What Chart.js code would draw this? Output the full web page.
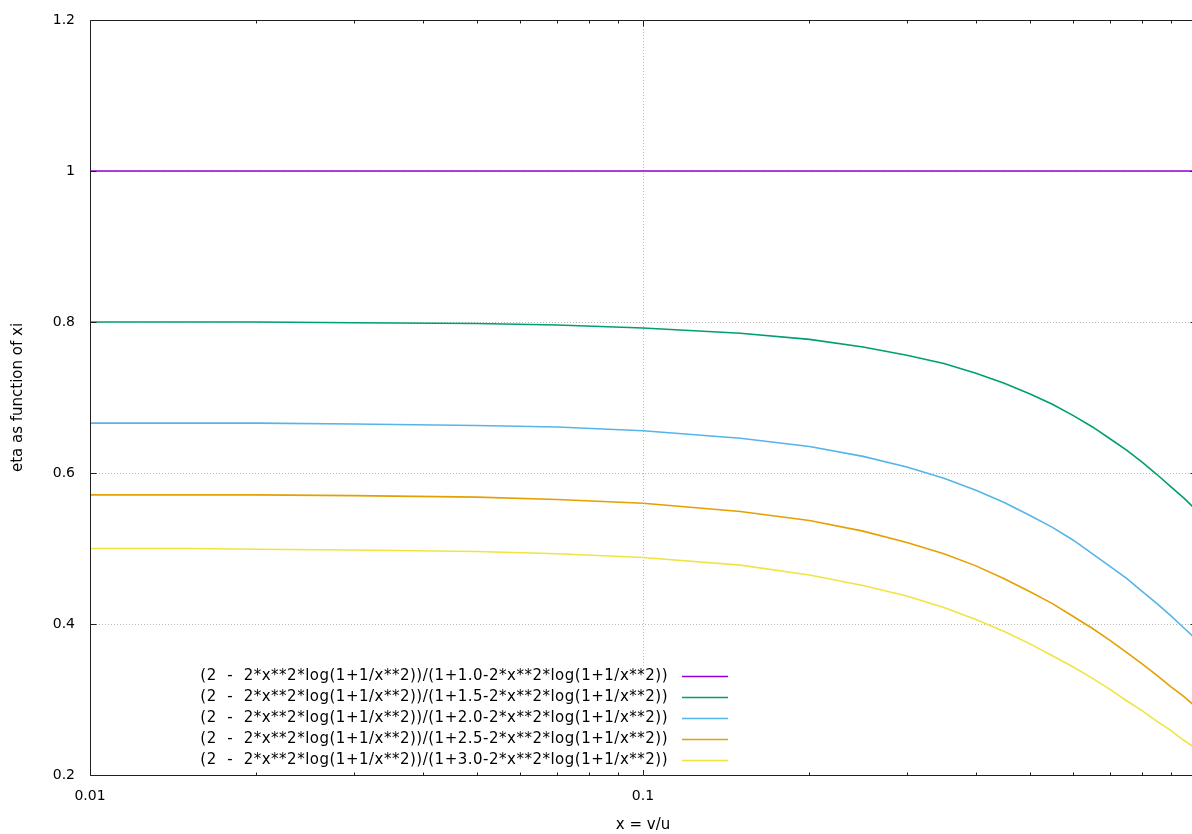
<!DOCTYPE html>
<html lang="en">
<head>
    <meta charset="UTF-8">
    <title>eta as function of xi</title>
    <script src="https://cdn.jsdelivr.net/npm/chart.js@4.4.1/dist/chart.umd.min.js"></script>
    <style>
        html, body { margin: 0; padding: 0; background: #fff; overflow: hidden; }
        #wrap { width: 1200px; height: 834px; }
    </style>
</head>
<body>
<div id="wrap"><canvas id="myChart" width="1200" height="834"></canvas></div>
<script>
    // sample points (x = v/u)
    var xValues = [0.01, 0.015, 0.02, 0.03, 0.05, 0.07, 0.1, 0.15, 0.2, 0.25, 0.3, 0.35, 0.4,
                   0.45, 0.5, 0.55, 0.6, 0.65, 0.7, 0.75, 0.8, 0.85, 0.9, 0.95, 1.0];

    var eta10 = [1, 1, 1, 1, 1, 1, 1, 1, 1, 1, 1, 1, 1, 1, 1, 1, 1, 1, 1, 1, 1, 1, 1, 1, 1];
    var eta15 = [0.800, 0.800, 0.800, 0.799, 0.798, 0.796, 0.792, 0.785, 0.777, 0.767, 0.756, 0.745, 0.732,
                 0.719, 0.705, 0.691, 0.676, 0.661, 0.645, 0.630, 0.614, 0.598, 0.582, 0.567, 0.551];
    var eta20 = [0.666, 0.666, 0.666, 0.665, 0.663, 0.661, 0.656, 0.646, 0.635, 0.622, 0.608, 0.593, 0.577,
                 0.561, 0.544, 0.528, 0.511, 0.493, 0.476, 0.460, 0.443, 0.427, 0.411, 0.395, 0.380];
    var eta25 = [0.571, 0.571, 0.571, 0.570, 0.568, 0.565, 0.560, 0.549, 0.537, 0.523, 0.508, 0.493, 0.477,
                 0.460, 0.443, 0.427, 0.410, 0.394, 0.378, 0.362, 0.347, 0.332, 0.317, 0.304, 0.290];
    var eta30 = [0.500, 0.500, 0.499, 0.498, 0.496, 0.493, 0.488, 0.478, 0.465, 0.451, 0.437, 0.422, 0.406,
                 0.390, 0.374, 0.358, 0.343, 0.328, 0.313, 0.298, 0.285, 0.271, 0.259, 0.246, 0.235];

    var seriesLabels = [
        '(2  -  2*x**2*log(1+1/x**2))/(1+1.0-2*x**2*log(1+1/x**2))',
        '(2  -  2*x**2*log(1+1/x**2))/(1+1.5-2*x**2*log(1+1/x**2))',
        '(2  -  2*x**2*log(1+1/x**2))/(1+2.0-2*x**2*log(1+1/x**2))',
        '(2  -  2*x**2*log(1+1/x**2))/(1+2.5-2*x**2*log(1+1/x**2))',
        '(2  -  2*x**2*log(1+1/x**2))/(1+3.0-2*x**2*log(1+1/x**2))'
    ];
    var seriesColors = ['#9400d3', '#009e73', '#56b4e9', '#e69f00', '#f0e442'];

    var xTickValues = [0.01, 0.1, 1];
    var xTickLabels = ['0.01', '0.1', '1'];
    var xMinorTicks = [0.02, 0.03, 0.04, 0.05, 0.06, 0.07, 0.08, 0.09,
                       0.2, 0.3, 0.4, 0.5, 0.6, 0.7, 0.8, 0.9];
    var yTickValues = [0.2, 0.4, 0.6, 0.8, 1.0, 1.2];
    var yTickLabels = ['0.2', '0.4', '0.6', '0.8', '1', '1.2'];

    function points(arr) {
        return xValues.map(function (x, i) { return { x: x, y: arr[i] }; });
    }

    var allSeries = [eta10, eta15, eta20, eta25, eta30];
    var datasets = allSeries.map(function (arr, i) {
        return {
            label: seriesLabels[i],
            data: points(arr),
            borderColor: seriesColors[i],
            backgroundColor: seriesColors[i],
            borderWidth: 1.6,
            pointRadius: 0,
            tension: 0,
            fill: false
        };
    });

    // gnuplot-like frame: dotted grid, border box, inward ticks, key box
    var framePlugin = {
        id: 'frame',
        beforeDatasetsDraw: function (chart) {
            var ctx = chart.ctx, a = chart.chartArea;
            var xs = chart.scales.x, ys = chart.scales.y;
            ctx.save();
            ctx.strokeStyle = '#b8b8b8';
            ctx.lineWidth = 1;
            ctx.setLineDash([1, 2]);
            yTickValues.forEach(function (v) {
                var py = Math.round(ys.getPixelForValue(v)) + 0.5;
                ctx.beginPath(); ctx.moveTo(a.left, py); ctx.lineTo(a.right, py); ctx.stroke();
            });
            xTickValues.forEach(function (v) {
                var px = Math.round(xs.getPixelForValue(v)) + 0.5;
                ctx.beginPath(); ctx.moveTo(px, a.top); ctx.lineTo(px, a.bottom); ctx.stroke();
            });
            ctx.restore();
        },
        afterDatasetsDraw: function (chart) {
            var ctx = chart.ctx, a = chart.chartArea;
            var xs = chart.scales.x, ys = chart.scales.y;
            ctx.save();
            ctx.setLineDash([]);
            ctx.strokeStyle = '#202020';
            ctx.lineWidth = 1;
            var L = Math.round(a.left) + 0.5, R = Math.round(a.right) + 0.5;
            var T = Math.round(a.top) + 0.5, B = Math.round(a.bottom) + 0.5;
            ctx.beginPath();
            ctx.rect(L, T, R - L, B - T);
            ctx.stroke();
            ctx.beginPath();
            yTickValues.forEach(function (v) {
                var py = Math.round(ys.getPixelForValue(v)) + 0.5;
                ctx.moveTo(L, py); ctx.lineTo(L + 6, py);
                ctx.moveTo(R, py); ctx.lineTo(R - 6, py);
            });
            xTickValues.forEach(function (v) {
                var px = Math.round(xs.getPixelForValue(v)) + 0.5;
                ctx.moveTo(px, B); ctx.lineTo(px, B - 6);
                ctx.moveTo(px, T); ctx.lineTo(px, T + 6);
            });
            xMinorTicks.forEach(function (v) {
                var px = Math.round(xs.getPixelForValue(v)) + 0.5;
                ctx.moveTo(px, B); ctx.lineTo(px, B - 3);
                ctx.moveTo(px, T); ctx.lineTo(px, T + 3);
            });
            ctx.stroke();

            // key
            var rowH = 21, lastY = 760, textRight = 668, sampleL = 682, sampleR = 728;
            var n = chart.data.datasets.length;
            ctx.fillStyle = '#ffffff';
            ctx.fillRect(195, lastY - (n - 1) * rowH - 10, 540, (n - 1) * rowH + 20);
            ctx.font = '15px "DejaVu Sans"';
            ctx.textAlign = 'right';
            ctx.textBaseline = 'middle';
            try { ctx.letterSpacing = '0.5px'; } catch (e) {}
            chart.data.datasets.forEach(function (ds, i) {
                var yy = lastY - (n - 1 - i) * rowH;
                ctx.fillStyle = '#000000';
                ctx.fillText(ds.label, textRight, yy);
                ctx.strokeStyle = ds.borderColor;
                ctx.lineWidth = 1.5;
                ctx.beginPath();
                ctx.moveTo(sampleL, Math.round(yy) + 0.5);
                ctx.lineTo(sampleR, Math.round(yy) + 0.5);
                ctx.stroke();
            });
            ctx.restore();
        }
    };

    var ctx = document.getElementById('myChart').getContext('2d');
    var myChart = new Chart(ctx, {
        type: 'line',
        data: { datasets: datasets },
        options: {
            responsive: false,
            animation: false,
            devicePixelRatio: 1,
            layout: { padding: { top: 20, right: 4, left: 0, bottom: 0 } },
            plugins: {
                legend: { display: false },
                tooltip: { enabled: false }
            },
            scales: {
                x: {
                    type: 'logarithmic',
                    min: 0.01,
                    max: 1,
                    afterBuildTicks: function (scale) {
                        scale.ticks = xTickValues.map(function (v) { return { value: v }; });
                    },
                    afterFit: function (scale) {
                        scale.height = 59;
                        scale.paddingLeft = 0;
                        scale.paddingRight = 0;
                    },
                    ticks: {
                        autoSkip: false,
                        maxRotation: 0,
                        padding: 13,
                        color: '#000',
                        font: { family: 'DejaVu Sans', size: 14 },
                        callback: function (v) {
                            var i = xTickValues.indexOf(v);
                            return i >= 0 ? xTickLabels[i] : '';
                        }
                    },
                    grid: { display: false, drawTicks: false },
                    border: { display: false },
                    title: {
                        display: true,
                        text: 'x = v/u',
                        color: '#000',
                        font: { family: 'DejaVu Sans', size: 15 },
                        padding: { top: 0, bottom: 0 }
                    }
                },
                y: {
                    min: 0.2,
                    max: 1.2,
                    afterBuildTicks: function (scale) {
                        scale.ticks = yTickValues.map(function (v) { return { value: v }; });
                    },
                    afterFit: function (scale) {
                        scale.width = 90;
                        scale.paddingTop = 0;
                        scale.paddingBottom = 0;
                    },
                    ticks: {
                        padding: 15,
                        color: '#000',
                        font: { family: 'DejaVu Sans', size: 14 },
                        callback: function (v) {
                            var i = yTickValues.indexOf(v);
                            return i >= 0 ? yTickLabels[i] : '';
                        }
                    },
                    grid: { display: false, drawTicks: false },
                    border: { display: false },
                    title: {
                        display: true,
                        text: 'eta as function of xi',
                        color: '#000',
                        font: { family: 'DejaVu Sans', size: 15 },
                        padding: { top: 9, bottom: 9 }
                    }
                }
            }
        },
        plugins: [framePlugin]
    });
</script>
</body>
</html>
